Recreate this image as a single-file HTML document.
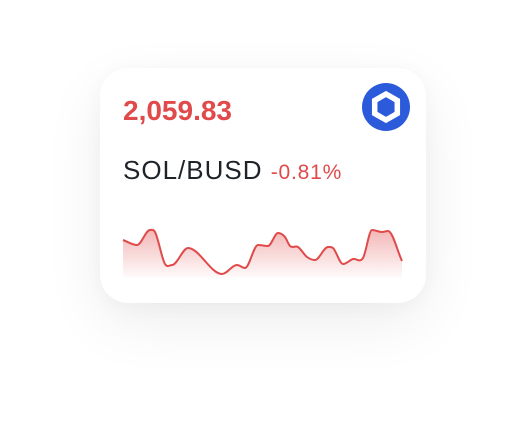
<!DOCTYPE html>
<html><head><meta charset="utf-8"><style>
html,body{margin:0;padding:0;width:526px;height:436px;background:#fff;overflow:hidden;font-family:"Liberation Sans",sans-serif;}
.card{position:absolute;left:100px;top:68px;width:326px;height:235px;border-radius:28px;background:#fff;box-shadow:0 20px 60px rgba(0,0,0,0.07),0 4px 20px rgba(0,0,0,0.03);}
.price{position:absolute;left:123px;top:95px;font-size:28px;font-weight:bold;color:#e04a4a;letter-spacing:0px;}
.pair{position:absolute;left:123px;top:155px;font-size:26px;letter-spacing:1px;color:#1e2329;white-space:nowrap;}
.chg{font-size:21px;letter-spacing:0.8px;color:#e04a4a;}
.icon{position:absolute;left:362px;top:83px;width:48px;height:48px;border-radius:50%;background:#2b5bdb;}
svg.spark{position:absolute;left:0;top:0;}
</style></head><body>
<div class="card"></div>
<div class="price">2,059.83</div>
<div class="pair">SOL/BUSD <span class="chg">-0.81%</span></div>
<div class="icon">
<svg width="48" height="48" viewBox="0 0 48 48"><polygon points="24,11 35.3,17.5 35.3,30.5 24,37 12.7,30.5 12.7,17.5" fill="none" stroke="#fff" stroke-width="5.5" stroke-linejoin="miter"/></svg>
</div>
<svg class="spark" width="526" height="436">
<defs><linearGradient id="g" x1="0" y1="0" x2="0" y2="1"><stop offset="0" stop-color="#e04a4a" stop-opacity="0.4"/><stop offset="1" stop-color="#e04a4a" stop-opacity="0.02"/></linearGradient></defs>
<path id="area" fill="url(#g)"/>
<path id="line" fill="none" stroke="#e04a4a" stroke-width="2"/>
</svg>
<script>
const times=[0,14,27,32,42,49,65,99,114,122,135,145,155,162,167,175,184,192,205,210,220,230,240,249,259,265,279];
const prices=[40,35,50,48,16,15,32,6,15,12,35,34,47,43,34,33,23,20,33,32,16,21,22,50,48,49,19];
const X0=123,X1=402,Y0=280,YS=1;
const x=t=>X0+(t-times[0])/(times[times.length-1]-times[0])*(X1-X0);
const y=v=>Y0-v*YS;
const P=times.map((t,i)=>[x(t),y(prices[i])]);
const n=P.length,m=new Array(n);
const dl=[];for(let i=0;i<n-1;i++)dl.push((P[i+1][1]-P[i][1])/(P[i+1][0]-P[i][0]));
m[0]=dl[0];m[n-1]=dl[n-2];
for(let i=1;i<n-1;i++){m[i]=(dl[i-1]*dl[i]<=0)?0:(dl[i-1]+dl[i])/2;}
let d="M"+P[0][0]+","+P[0][1];
for(let i=0;i<n-1;i++){const h=(P[i+1][0]-P[i][0])/3;
d+=` C${P[i][0]+h},${P[i][1]+m[i]*h} ${P[i+1][0]-h},${P[i+1][1]-m[i+1]*h} ${P[i+1][0]},${P[i+1][1]}`;}
document.getElementById('line').setAttribute('d',d);
document.getElementById('area').setAttribute('d',d+` L${P[n-1][0]},${y(2)} L${P[0][0]},${y(2)} Z`);
</script>
</body></html>
